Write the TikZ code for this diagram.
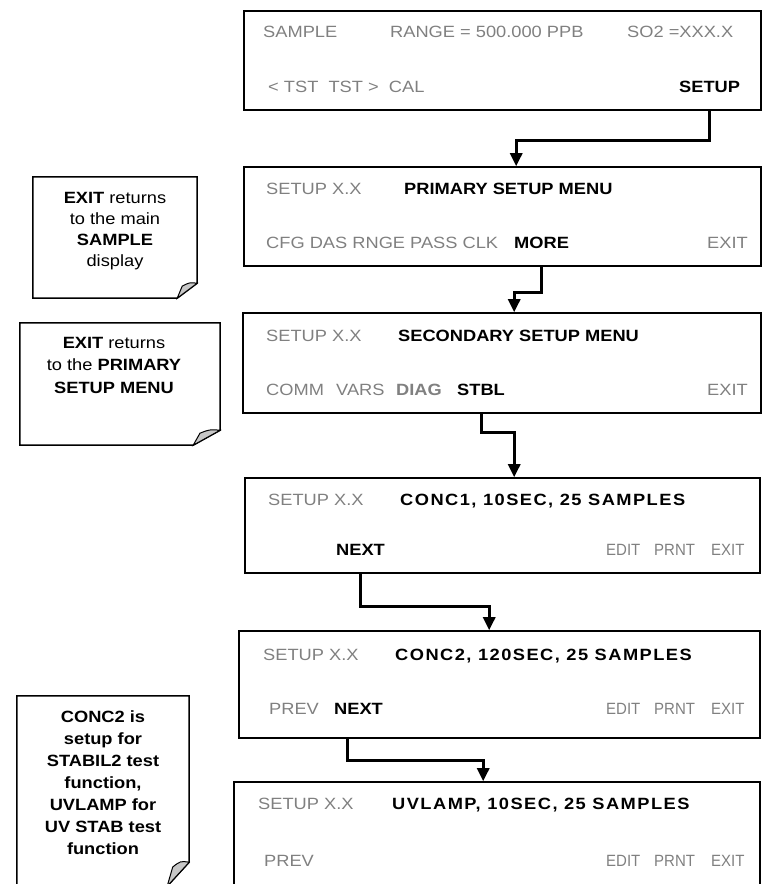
\documentclass[tikz,border=0pt]{standalone}
\usepackage{fontspec}
\setmainfont{Liberation Sans}[FakeStretch=1.12]
\usetikzlibrary{arrows.meta}
\usetikzlibrary{positioning}
\definecolor{lcdgray}{gray}{0.5}
\definecolor{flapgray}{gray}{0.78}
\tikzset{>={Triangle[width=12pt,length=13pt]}, font=\fontsize{16.3}{22}\selectfont}
\tikzstyle{screen} = [draw, line width=1.6pt, rectangle, inner sep=0pt]
\tikzstyle{note} = [rectangle, inner sep=0pt]
\tikzstyle{memo} = [align=center, anchor=north, inner sep=0pt]
\tikzstyle{lbl} = [anchor=base west, inner sep=0pt, text=lcdgray]
\tikzstyle{soft} = [lbl, font=\fontsize{16.3}{22}\selectfont\addfontfeature{FakeStretch=0.92}]
\tikzstyle{key} = [anchor=base west, inner sep=0pt, font=\fontsize{16.3}{22}\selectfont\bfseries]
\tikzstyle{head} = [key, font=\fontsize{16.3}{22}\selectfont\bfseries\addfontfeature{LetterSpace=9}]
\tikzstyle{flow} = [->, line width=3pt]
% note outline with the folded lower right corner
\newcommand{\dogear}[3]{%
  \draw[line width=1.5pt] (#1.north west) -- (#1.north east) -- ([yshift=#3]#1.south east)
    -- ([xshift=-#2]#1.south east) -- (#1.south west) -- cycle;
  \filldraw[fill=flapgray, line width=1pt] ([yshift=#3]#1.south east)
    .. controls ([xshift={-0.4*#2},yshift={1.05*#3}]#1.south east) .. ([xshift={-0.75*#2},yshift={0.8*#3}]#1.south east)
    -- ([xshift=-#2]#1.south east) -- cycle;}

\begin{document}
\begin{tikzpicture}[x=1pt,y=-1pt]
  \useasboundingbox (0,0) rectangle (762,884);

  % screens
  \node [screen, minimum width=517pt, minimum height=99pt] (scrA) at (502.5,60.5) {};
  \node [screen, minimum width=517pt, minimum height=99pt] (scrB) at (502.5,216.5) {};
  \node [screen, minimum width=518pt, minimum height=100pt] (scrC) at (502,363) {};
  \node [screen, minimum width=515pt, minimum height=95pt] (scrD) at (502.5,525.5) {};
  \node [screen, minimum width=521pt, minimum height=107pt] (scrE) at (499.5,684.5) {};
  \node [screen, minimum width=526pt, minimum height=112pt] (scrF) at (497,838) {};

  \node [lbl] (sampleA) at (263,37) {SAMPLE};
  \node [lbl] (rangeA) at (390,37) {RANGE = 500.000 PPB};
  \node [lbl] (so2A) at (627,37) {SO2 =XXX.X};
  \node [lbl] (tstA) at (268,92) {< TST~~TST >~~CAL};
  \node [key] (kSetup) at (679,92) {SETUP};

  \node [lbl] (verB) at (266,194) {SETUP X.X};
  \node [key] (headB) at (404,194) {PRIMARY SETUP MENU};
  \node [lbl] (cfgB) at (266,248) {CFG DAS RNGE PASS CLK};
  \node [key] (kMore) at (514,248) {MORE};
  \node [lbl] (exitB) at (707,248) {EXIT};

  \node [lbl] (verC) at (266,341) {SETUP X.X};
  \node [key] (headC) at (398,341) {SECONDARY SETUP MENU};
  \node [lbl] (commC) at (266,395) {COMM};
  \node [lbl] (varsC) at (336,395) {VARS};
  \node [key, text=lcdgray] (diagC) at (396,395) {DIAG};
  \node [key] (kStbl) at (457,395) {STBL};
  \node [lbl] (exitC) at (707,395) {EXIT};

  \node [lbl] (verD) at (268,505) {SETUP X.X};
  \node [head] (headD) at (400,505) {CONC1, 10SEC, 25 SAMPLES};
  \node [key] (kNextD) at (336,555) {NEXT};
  \node [soft] (editD) at (606,555) {EDIT};
  \node [soft] (prntD) at (654,555) {PRNT};
  \node [soft] (exitD) at (711,555) {EXIT};

  \node [lbl] (verE) at (263,660) {SETUP X.X};
  \node [head] (headE) at (395,660) {CONC2, 120SEC, 25 SAMPLES};
  \node [lbl] (prevE) at (269,714) {PREV};
  \node [key] (kNextE) at (334,714) {NEXT};
  \node [soft] (editE) at (606,714) {EDIT};
  \node [soft] (prntE) at (654,714) {PRNT};
  \node [soft] (exitE) at (711,714) {EXIT};

  \node [lbl] (verF) at (258,809) {SETUP X.X};
  \node [head] (headF) at (392,809) {UVLAMP, 10SEC, 25 SAMPLES};
  \node [lbl] (prevF) at (264,866) {PREV};
  \node [soft] (editF) at (606,866) {EDIT};
  \node [soft] (prntF) at (654,866) {PRNT};
  \node [soft] (exitF) at (711,866) {EXIT};

  % notes
  \node [note, minimum width=164pt, minimum height=121pt] (noteA) at (115,237.5) {};
  \node [memo, font=\fontsize{16.3}{21}\selectfont] (noteAtext) at ([yshift=-15pt]noteA.north) {\textbf{EXIT} returns\\to the main\\\textbf{SAMPLE}\\display};
  \dogear{noteA}{20pt}{15pt}
  \node [note, minimum width=200pt, minimum height=122pt] (noteB) at (120,384) {};
  \node [memo, font=\fontsize{16.3}{22.5}\selectfont] (noteBtext) at ([xshift=-6pt,yshift=-14pt]noteB.north) {\textbf{EXIT} returns\\to the \textbf{PRIMARY}\\\textbf{SETUP MENU}};
  \dogear{noteB}{27pt}{15pt}
  \node [note, minimum width=172pt, minimum height=190pt] (noteC) at (103,791) {};
  \node [memo, font=\fontsize{16.3}{22}\selectfont\bfseries] (noteCtext) at ([yshift=-15pt]noteC.north) {CONC2 is\\setup for\\STABIL2 test\\function,\\UVLAMP for\\UV STAB test\\function};
  \dogear{noteC}{22pt}{24pt}

  % key presses
  \draw [flow] (kSetup |- scrA.south) -- ++(0,30) -| ([xshift=273pt]scrB.north west);
  \draw [flow] (kMore |- scrB.south) -- ++(0,26) -| ([xshift=272pt]scrC.north west);
  \draw [flow] (kStbl |- scrC.south) -- ++(0,19) -| ([xshift=270pt]scrD.north west);
  \draw [flow] (kNextD |- scrD.south) -- ++(0,33) -| ([xshift=251pt]scrE.north west);
  \draw [flow] ([xshift=13pt]kNextE.west |- scrE.south) -- ++(0,22) -| ([xshift=250pt]scrF.north west);
\end{tikzpicture}
\end{document}
